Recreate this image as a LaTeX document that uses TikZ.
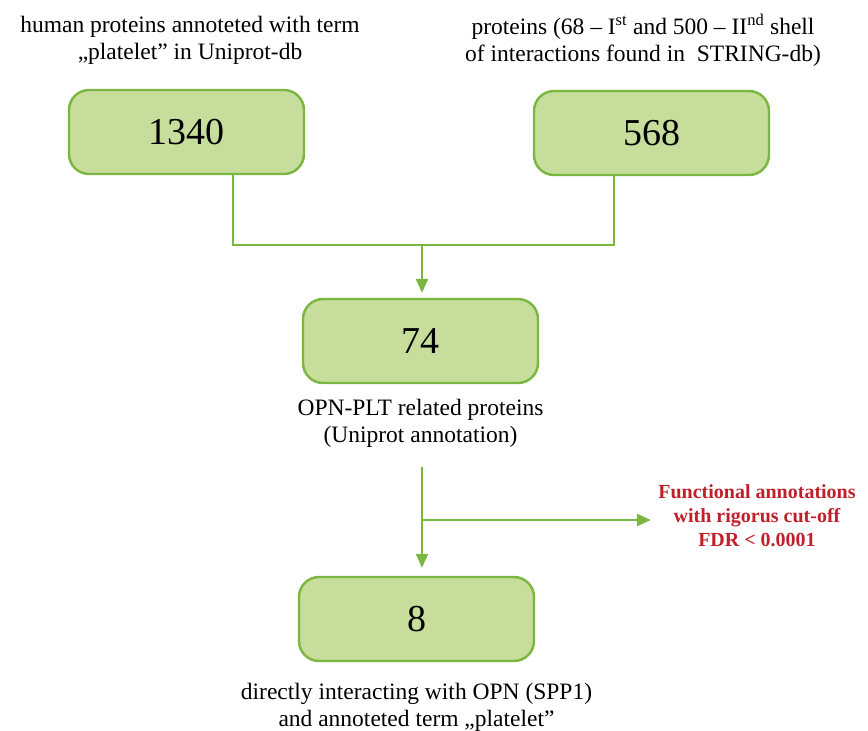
\documentclass[tikz,border=0pt]{standalone}
\usepackage{fontspec}
\setmainfont{Liberation Serif}
\usetikzlibrary{arrows.meta,positioning}
\definecolor{boxfill}{RGB}{198,221,155}
\definecolor{boxline}{RGB}{122,182,64}
\definecolor{cutred}{RGB}{192,32,42}
\tikzset{
    %Define standard arrow tip
    >={Triangle[length=14pt,width=12pt]},
    %Define style for boxes
    countbox/.style={
           draw=boxline,
           fill=boxfill,
           line width=2.4pt,
           rounded corners=20pt,
           minimum width=235pt,
           minimum height=84pt,
           font=\fontsize{38}{42}\selectfont,},
    caption/.style={
           align=center,
           font=\fontsize{23.5}{27}\selectfont,},
    pil/.style={
           draw=boxline,
           line width=2.2pt,}
}

\begin{document}
\begin{tikzpicture}[x=1pt,y=-1pt]
 \useasboundingbox (0,0) rectangle (868,731);
 %nodes
 \node[countbox] (n1340) at (186.5,132) {1340};
 \node[countbox] (n568) at (651.5,133) {568};
 \node[countbox] (n74) at (420.5,341) {74};
 \node[countbox] (n8) at (416.5,619) {8};

 \node[caption] (uniprot) at (190,40) {human proteins annoteted with term\\,,platelet'' in Uniprot-db};
 \node[caption] (string) at (643,40) {proteins (68 -- I\textsuperscript{st} and 500 -- II\textsuperscript{nd} shell\\of interactions found in\ \ STRING-db)};
 \node[caption, below=11pt of n74] (n74cap) {OPN-PLT related proteins\\(Uniprot annotation)};
 \node[caption, below=17pt of n8] (n8cap) {directly interacting with OPN (SPP1)\\and annoteted term ,,platelet''};
 \node[align=center, text=cutred, font=\bfseries\fontsize{20}{24}\selectfont] (fdr) at (757,516) {Functional annotations\\with rigorus cut-off\\FDR < 0.0001};

 %connectors
 \coordinate (lx) at (233,0);
 \coordinate (rx) at (614,0);
 \coordinate (join) at (422,245);
 \coordinate (split) at (422,520);
 \coordinate (start) at (422,467);
 \draw[pil] (n1340.south -| lx) |- (join) -| (n568.south -| rx);
 \draw[pil, ->, shorten >=5pt] (join) -- (join |- n74.north);
 \draw[pil, ->, shorten >=8pt] (start) -- (start |- n8.north);
 \draw[pil, ->, shorten >=4pt] (split) -- (fdr.west |- split);
\end{tikzpicture}
\end{document}
